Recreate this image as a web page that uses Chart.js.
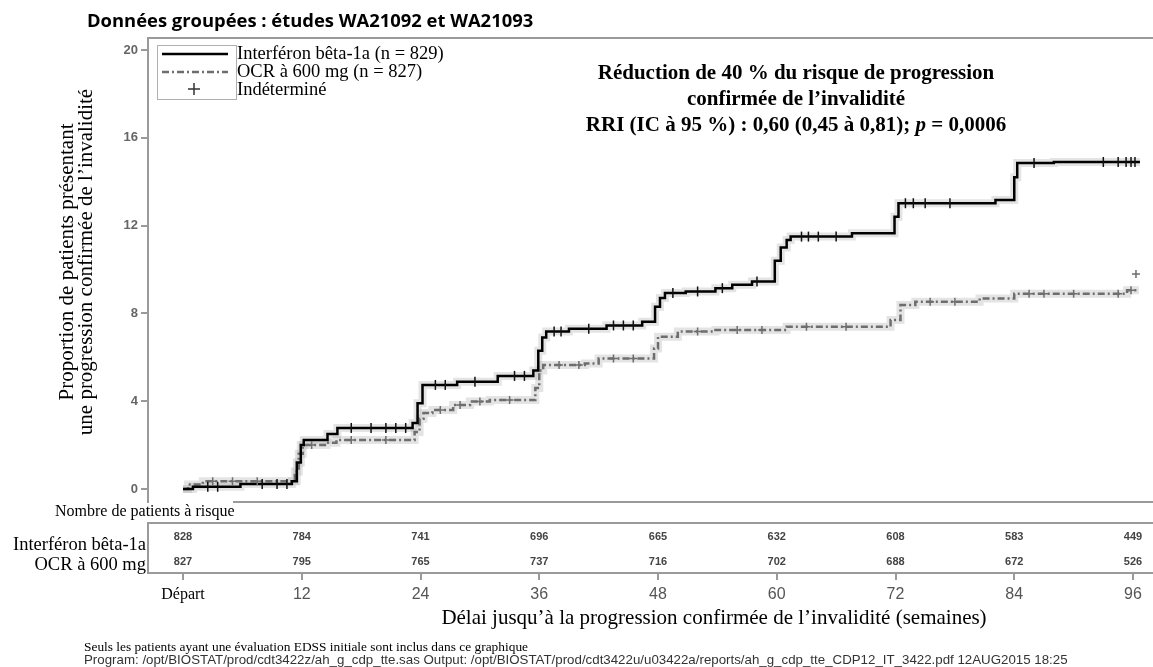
<!DOCTYPE html>
<html>
<head>
<meta charset="utf-8">
<script src="https://cdn.jsdelivr.net/npm/chart.js@4.4.1/dist/chart.umd.min.js"></script>
<style>
  html, body { margin: 0; padding: 0; background: #fff; }
</style>
</head>
<body>
<canvas id="kmChart" width="1153" height="667"></canvas>
<script>
// courbes de Kaplan-Meier (semaines, % de patients avec progression)
const ifnTimes = [0, 1, 5.8, 11, 11.5, 11.9, 12.2, 14.6, 15.6, 23.2, 23.7, 24.2, 27.7, 31.8, 35.4, 35.9, 36.3, 36.7, 39, 42.8,
  46.4, 47.7, 48.2, 48.7, 50.8, 53.8, 55.5, 57.5, 59.8, 60.4, 61, 61.4, 67.6, 71.9, 72.3, 82.1, 84, 84.3, 88, 96.7];
const ifnValues = [0, 0.1, 0.23, 0.35, 1.2, 2.0, 2.23, 2.5, 2.78, 3.0, 3.9, 4.74, 4.88, 5.15, 5.4, 6.3, 6.9, 7.17, 7.3, 7.45,
  7.62, 8.3, 8.7, 8.93, 9.0, 9.15, 9.3, 9.45, 10.4, 11.0, 11.34, 11.5, 11.65, 12.4, 13.02, 13.17, 14.2, 14.85, 14.9, 14.9];

const ocrTimes = [0, 0.5, 2, 11.3, 11.7, 12.1, 14.5, 15.5, 23.4, 23.9, 24.3, 25.2, 27.3, 29, 31, 35.6, 36, 36.4, 40.6, 42,
  47.6, 48, 50, 53.8, 61, 71.5, 72.5, 74, 80.5, 84, 95.4, 96.6];
const ocrValues = [0, 0.2, 0.35, 0.8, 1.6, 2.0, 2.1, 2.23, 2.6, 3.2, 3.46, 3.6, 3.83, 3.98, 4.05, 4.6, 5.4, 5.65, 5.72, 5.95,
  6.4, 6.94, 7.17, 7.24, 7.39, 7.7, 8.38, 8.53, 8.68, 8.9, 9.05, 9.05];

// patients censurés (indéterminé)
const ifnCensorTimes = [2.5, 3.5, 8, 9.5, 10.5, 17, 19, 20.5, 21.5, 22.5, 25.5, 26.5, 29.5, 33.5, 34.5, 37.5, 38.2, 41, 43.5, 44.5,
  45.5, 49.5, 52, 54.5, 58, 62.5, 63.2, 64.2, 66, 73, 73.8, 75, 77.5, 86, 93, 94.5, 95.3, 95.8, 96.2];
const ifnCensorValues = [0.1, 0.1, 0.23, 0.23, 0.23, 2.78, 2.78, 2.78, 2.78, 2.78, 4.74, 4.74, 4.88, 5.15, 5.15, 7.17, 7.17, 7.3, 7.45, 7.45,
  7.45, 8.93, 9.0, 9.15, 9.45, 11.5, 11.5, 11.5, 11.5, 13.02, 13.02, 13.02, 13.02, 14.85, 14.9, 14.9, 14.9, 14.9, 14.9];
const ocrCensorTimes = [3, 5, 7.5, 13, 17, 20.5, 26, 28, 30, 33, 38, 40, 43.5, 45.5, 52, 56, 58.5, 63, 67, 75.5,
  78, 85.5, 87, 90, 94.5, 95.8, 96.3];
const ocrCensorValues = [0.35, 0.35, 0.35, 2.0, 2.23, 2.23, 3.6, 3.83, 3.98, 4.05, 5.65, 5.65, 5.95, 5.95, 7.17, 7.24, 7.24, 7.39, 7.39, 8.53,
  8.53, 8.9, 8.9, 8.9, 8.9, 9.05, 9.8];

// nombre de patients à risque
const riskWeeks = [0, 12, 24, 36, 48, 60, 72, 84, 96];
const ifnAtRisk = [828, 784, 741, 696, 665, 632, 608, 583, 449];
const ocrAtRisk = [827, 795, 765, 737, 716, 702, 688, 672, 526];

const yTicks = [0, 4, 8, 12, 16, 20];

const legendLabels = ['Interféron bêta-1a (n = 829)', 'OCR à 600 mg (n = 827)', 'Indéterminé'];
const rowLabels = ['Interféron bêta-1a', 'OCR à 600 mg'];
//! ---------------------------------

const SERIF = '"Liberation Serif", "Times New Roman", serif';
const SANS = '"Liberation Sans", Arial, sans-serif';
const GRAY_DASH = [7, 3, 2, 3];

function toPoints(xs, ys) {
  return xs.map((x, i) => ({ x: x, y: ys[i] }));
}

//! Texte et tableau dessinés autour du graphique.
const decorPlugin = {
  id: 'decor',
  afterDraw(chart) {
    const c = chart.ctx;
    const area = chart.chartArea;
    const xs = chart.scales.x;
    const right = chart.width;
    c.save();

    // cadre du haut
    c.strokeStyle = '#9a9a9a';
    c.lineWidth = 2;
    c.beginPath();
    c.moveTo(area.left, area.top);
    c.lineTo(right, area.top);
    c.stroke();

    // titre
    c.fillStyle = '#000';
    c.textBaseline = 'middle';
    c.textAlign = 'left';
    c.font = 'bold 18.4px "Open Sans", sans-serif';
    c.fillText('Données groupées : études WA21092 et WA21093', 87, 22);

    // annotation
    c.textAlign = 'center';
    c.font = 'bold 21px ' + SERIF;
    c.fillText('Réduction de 40 % du risque de progression', 796, 74);
    c.fillText('confirmée de l\u2019invalidité', 796, 100);
    const parts = [
      ['bold 21px ' + SERIF, 'RRI (IC à 95 %) : 0,60 (0,45 à 0,81); '],
      ['italic bold 21px ' + SERIF, 'p'],
      ['bold 21px ' + SERIF, ' = 0,0006']
    ];
    let total = 0;
    parts.forEach(p => { c.font = p[0]; total += c.measureText(p[1]).width; });
    let px = 796 - total / 2;
    c.textAlign = 'left';
    parts.forEach(p => { c.font = p[0]; c.fillText(p[1], px, 126); px += c.measureText(p[1]).width; });

    // titre axe y
    c.save();
    c.translate(0, 262);
    c.rotate(-Math.PI / 2);
    c.textAlign = 'center';
    c.font = '21px ' + SERIF;
    c.fillText('Proportion de patients présentant', 0, 67);
    c.fillText('une progression confirmée de l\u2019invalidité', 0, 86);
    c.restore();

    // légende
    c.strokeStyle = '#b0b0b0';
    c.lineWidth = 1;
    c.strokeRect(157.5, 45.5, 79, 54);
    c.strokeStyle = '#000';
    c.lineWidth = 2.5;
    c.beginPath(); c.moveTo(162, 54); c.lineTo(228, 54); c.stroke();
    c.strokeStyle = '#6e6e6e';
    c.setLineDash(GRAY_DASH);
    c.beginPath(); c.moveTo(162, 72); c.lineTo(228, 72); c.stroke();
    c.setLineDash([]);
    c.strokeStyle = '#333';
    c.lineWidth = 1.5;
    c.beginPath();
    c.moveTo(188, 89); c.lineTo(200, 89);
    c.moveTo(194, 83); c.lineTo(194, 95);
    c.stroke();
    c.fillStyle = '#000';
    c.font = '18.5px ' + SERIF;
    legendLabels.forEach((t, i) => c.fillText(t, 237, 54 + i * 18));

    // tableau des patients à risque
    c.strokeStyle = '#9a9a9a';
    c.lineWidth = 2;
    c.beginPath();
    c.moveTo(233, 502); c.lineTo(right, 502);
    c.moveTo(area.left, 523); c.lineTo(right, 523);
    c.moveTo(area.right, area.bottom); c.lineTo(right, area.bottom);
    c.stroke();
    c.fillStyle = '#fff';
    c.fillRect(52, 503, 181, 19);
    c.fillStyle = '#000';
    c.font = '16px ' + SERIF;
    c.fillText('Nombre de patients à risque', 55, 512);

    c.textAlign = 'right';
    c.font = '18.5px ' + SERIF;
    c.fillText(rowLabels[0], 146, 545);
    c.fillText(rowLabels[1], 146, 565);

    c.textAlign = 'center';
    c.fillStyle = '#444';
    c.font = 'bold 11px ' + SANS;
    riskWeeks.forEach((w, i) => {
      const x = xs.getPixelForValue(w);
      c.fillText(String(ifnAtRisk[i]), x, 537);
      c.fillText(String(ocrAtRisk[i]), x, 562);
    });

    // titre axe x
    c.fillStyle = '#000';
    c.font = '21px ' + SERIF;
    c.fillText('Délai jusqu\u2019à la progression confirmée de l\u2019invalidité (semaines)', 714, 618);

    // notes
    c.textAlign = 'left';
    c.font = '13.4px ' + SERIF;
    c.fillText('Seuls les patients ayant une évaluation EDSS initiale sont inclus dans ce graphique', 84, 647);
    c.fillStyle = '#333';
    c.font = '13.3px ' + SANS;
    c.textBaseline = 'alphabetic';
    c.fillText('Program: /opt/BIOSTAT/prod/cdt3422z/ah_g_cdp_tte.sas Output: /opt/BIOSTAT/prod/cdt3422u/u03422a/reports/ah_g_cdp_tte_CDP12_IT_3422.pdf 12AUG2015 18:25', 84, 664);

    c.restore();
  }
};
//! ---------------------------------

const data = {
  datasets: [
    {
      label: 'IFN censure',
      data: toPoints(ifnCensorTimes, ifnCensorValues),
      showLine: false,
      pointStyle: 'line',
      rotation: 90,
      pointRadius: 5,
      pointBorderWidth: 1.5,
      pointBorderColor: '#111',
      order: 0
    },
    {
      label: 'OCR censure',
      data: toPoints(ocrCensorTimes, ocrCensorValues),
      showLine: false,
      pointStyle: 'cross',
      pointRadius: 4,
      pointBorderWidth: 1.5,
      pointBorderColor: '#6e6e6e',
      order: 0
    },
    {
      label: legendLabels[0],
      data: toPoints(ifnTimes, ifnValues),
      stepped: true,
      borderColor: '#000',
      borderWidth: 2.5,
      pointRadius: 0,
      order: 1
    },
    {
      label: legendLabels[1],
      data: toPoints(ocrTimes, ocrValues),
      stepped: true,
      borderColor: '#6e6e6e',
      borderWidth: 2.5,
      borderDash: GRAY_DASH,
      pointRadius: 0,
      order: 2
    },
    {
      label: 'halo IFN',
      data: toPoints(ifnTimes, ifnValues),
      stepped: true,
      borderColor: 'rgba(130,130,130,0.22)',
      borderWidth: 8,
      pointRadius: 0,
      order: 3
    },
    {
      label: 'halo OCR',
      data: toPoints(ocrTimes, ocrValues),
      stepped: true,
      borderColor: 'rgba(130,130,130,0.22)',
      borderWidth: 8,
      pointRadius: 0,
      order: 3
    }
  ]
};

const options = {
  responsive: false,
  animation: false,
  layout: { autoPadding: false, padding: { left: 108, top: 38, right: 0, bottom: 64 } },
  plugins: {
    legend: { display: false },
    tooltip: { enabled: false }
  },
  scales: {
    x: {
      type: 'linear',
      min: -3.54,
      max: 98.02,
      afterBuildTicks: s => { s.ticks = riskWeeks.map(v => ({ value: v })); },
      afterFit: s => { s.height = 30; s.paddingLeft = 0; s.paddingRight = 0; },
      ticks: {
        autoSkip: false,
        maxRotation: 0,
        padding: 5,
        callback: v => (v === 0 ? 'Départ' : String(v)),
        font: ctx => (ctx.tick && ctx.tick.value === 0
          ? { family: SERIF, size: 16 }
          : { family: SANS, size: 16 }),
        color: ctx => (ctx.tick && ctx.tick.value === 0 ? '#000' : '#555')
      },
      grid: { drawOnChartArea: false, tickLength: 7, color: '#9a9a9a', lineWidth: 2 },
      border: { color: '#9a9a9a', width: 2 }
    },
    y: {
      type: 'linear',
      min: -3.83,
      max: 20.55,
      afterBuildTicks: s => { s.ticks = yTicks.map(v => ({ value: v })); },
      afterFit: s => { s.width = 40; s.paddingTop = 0; s.paddingBottom = 0; },
      ticks: {
        padding: 3,
        color: '#666',
        font: { family: SANS, size: 13, weight: 'bold' }
      },
      grid: { drawOnChartArea: false, tickLength: 7, color: '#9a9a9a', lineWidth: 2 },
      border: { color: '#9a9a9a', width: 2 }
    }
  }
};

const myChart = new Chart(document.getElementById('kmChart').getContext('2d'), {
  type: 'line',
  data,
  options,
  plugins: [decorPlugin]
});
</script>
</body>
</html>
